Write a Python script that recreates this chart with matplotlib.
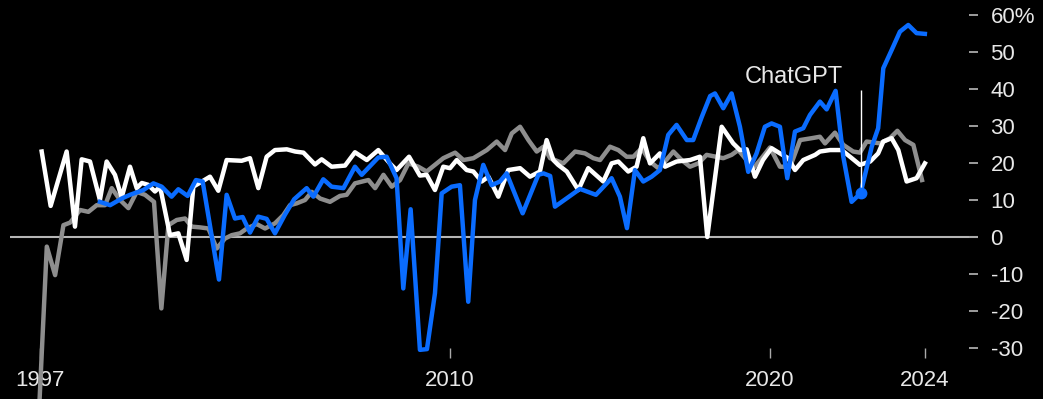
import matplotlib.pyplot as plt

plt.rcParams['font.family'] = ['Liberation Sans', 'DejaVu Sans']

# Year-over-year change, % (decimal years)
white_years = [1997.24, 1997.52, 1998.02, 1998.28, 1998.49, 1998.75, 1999.06, 1999.27, 1999.53, 1999.74,
               2000.0, 2000.21, 2000.37, 2000.57, 2000.78, 2000.94, 2001.25, 2001.51, 2001.77, 2001.98,
               2002.5, 2002.76, 2003.02, 2003.49, 2003.75, 2004.01, 2004.27, 2004.53, 2004.9, 2005.16,
               2005.42, 2005.78, 2005.99, 2006.3, 2006.72, 2007.03, 2007.4, 2007.76, 2008.12, 2008.33,
               2008.72, 2009.06, 2009.27, 2009.53, 2009.79, 2010.0, 2010.21, 2010.52, 2010.73, 2010.99,
               2011.2, 2011.51, 2011.82, 2012.19, 2012.5, 2012.81, 2013.02, 2013.23, 2013.38, 2013.65,
               2014.01, 2014.32, 2014.79, 2015.05, 2015.26, 2015.57, 2015.83, 2016.04, 2016.25, 2016.56,
               2016.72, 2017.08, 2017.5, 2017.81, 2018.04, 2018.49, 2018.85, 2019.06, 2019.27, 2019.53,
               2019.78, 2020.05, 2020.31, 2020.57, 2020.78, 2021.04, 2021.41, 2021.56, 2021.88, 2022.24,
               2022.5, 2022.81, 2023.13, 2023.38, 2023.54, 2023.8, 2024.01, 2024.27, 2024.58, 2024.84]
white_vals = [23.1, 8.4, 23.1, 2.8, 21.0, 20.4, 10.0, 20.4, 16.8, 10.7,
              19.0, 13.2, 14.6, 14.1, 12.3, 13.6, 0.5, 1.0, -6.2, 13.6,
              16.3, 12.5, 20.8, 20.6, 21.3, 13.2, 21.7, 23.5, 23.7, 23.1,
              22.8, 19.6, 21.0, 19.0, 19.3, 22.9, 20.8, 23.5, 19.9, 18.1,
              21.7, 16.6, 16.8, 12.7, 19.0, 18.6, 20.8, 18.1, 17.7, 15.0,
              16.3, 10.9, 18.1, 18.6, 16.3, 17.7, 26.2, 20.8, 19.5, 17.7,
              12.7, 18.6, 15.0, 19.9, 20.4, 17.7, 19.0, 26.7, 19.9, 22.6,
              19.0, 20.4, 20.8, 21.7, 0.0, 29.8, 25.3, 23.5, 23.7, 16.3,
              20.8, 24.0, 22.6, 21.3, 18.1, 20.8, 22.2, 23.1, 23.5, 23.5,
              21.7, 19.5, 20.4, 22.6, 25.8, 26.7, 23.5, 15.0, 15.9, 19.9]

gray_years = [1997.13, 1997.4, 1997.66, 1997.92, 1998.13, 1998.44, 1998.7, 1998.96, 1999.22, 1999.43,
              1999.69, 1999.95, 2000.21, 2000.47, 2000.75, 2000.98, 2001.2, 2001.46, 2001.72, 2001.93,
              2002.19, 2002.45, 2002.71, 2002.97, 2003.18, 2003.44, 2003.65, 2003.96, 2004.22, 2004.53,
              2004.79, 2005.0, 2005.21, 2005.47, 2005.68, 2005.94, 2006.25, 2006.56, 2006.77, 2007.03,
              2007.45, 2007.66, 2007.92, 2008.18, 2008.44, 2008.7, 2009.01, 2009.27, 2009.53, 2009.79,
              2010.16, 2010.42, 2010.73, 2011.15, 2011.46, 2011.72, 2011.93, 2012.19, 2012.45, 2012.71,
              2012.92, 2013.13, 2013.28, 2013.54, 2013.91, 2014.22, 2014.48, 2014.69, 2015.0, 2015.26,
              2015.52, 2015.73, 2015.99, 2016.25, 2016.51, 2016.72, 2016.98, 2017.24, 2017.5, 2017.76,
              2018.02, 2018.54, 2018.8, 2019.01, 2019.48, 2019.69, 2020.0, 2020.31, 2020.63, 2020.94,
              2021.3, 2021.56, 2021.72, 2022.03, 2022.29, 2022.6, 2022.81, 2023.02, 2023.44, 2023.75,
              2023.98, 2024.22, 2024.48, 2024.75]
gray_vals = [-52.0, -2.6, -10.3, 3.2, 3.9, 7.3, 6.8, 8.6, 8.6, 13.2,
             10.0, 7.8, 12.2, 11.4, 9.5, -19.3, 3.2, 4.6, 5.0, 2.8,
             2.6, 2.3, -3.1, -0.4, 0.5, 1.0, 2.3, 3.5, 2.3, 3.7,
             5.9, 8.6, 9.1, 10.0, 12.2, 10.4, 9.5, 11.1, 11.4, 14.5,
             15.4, 13.2, 16.8, 13.6, 15.4, 19.9, 19.0, 17.7, 19.5, 21.3,
             22.8, 20.8, 21.3, 23.5, 25.8, 23.5, 28.0, 29.8, 26.2, 23.1,
             24.4, 21.3, 20.8, 19.9, 23.1, 22.6, 21.3, 20.8, 24.4, 23.5,
             21.7, 21.7, 24.0, 20.4, 18.6, 20.4, 23.1, 20.8, 19.0, 19.9,
             22.2, 21.3, 22.2, 23.5, 18.6, 20.8, 24.2, 19.0, 19.0, 26.2,
             26.7, 27.1, 25.3, 28.2, 24.9, 23.1, 22.8, 25.8, 25.3, 26.7,
             28.7, 26.2, 24.9, 15.4]

blue_years = [1999.06, 1999.38, 1999.74, 2000.0, 2000.42, 2000.73, 2000.99, 2001.3, 2001.51, 2001.8,
              2002.06, 2002.27, 2002.78, 2003.02, 2003.28, 2003.52, 2003.75, 2004.01, 2004.27, 2004.53,
              2004.84, 2005.13, 2005.52, 2005.73, 2006.04, 2006.3, 2006.67, 2007.03, 2007.24, 2007.76,
              2008.02, 2008.33, 2008.54, 2008.77, 2009.06, 2009.28, 2009.53, 2009.74, 2010.05, 2010.31,
              2010.57, 2010.78, 2011.04, 2011.3, 2011.56, 2011.77, 2012.27, 2012.76, 2012.92, 2013.13,
              2013.28, 2014.06, 2014.56, 2015.05, 2015.31, 2015.53, 2015.78, 2016.04, 2016.3, 2016.56,
              2016.82, 2017.08, 2017.4, 2017.6, 2017.87, 2018.13, 2018.28, 2018.54, 2018.8, 2019.06,
              2019.32, 2019.58, 2019.84, 2020.05, 2020.31, 2020.54, 2020.78, 2021.04, 2021.25, 2021.56,
              2021.77, 2022.05, 2022.29, 2022.55, 2022.83, 2023.18, 2023.38, 2023.54, 2023.8, 2024.06,
              2024.32, 2024.58, 2024.84]
blue_vals = [9.5, 8.6, 10.4, 11.4, 12.7, 14.5, 13.6, 10.9, 12.9, 11.1,
             15.4, 15.0, -11.5, 11.4, 5.0, 5.4, 1.2, 5.5, 4.9, 1.0,
             6.0, 10.2, 13.2, 10.9, 15.6, 13.6, 13.2, 19.0, 16.8, 21.5,
             21.7, 15.9, -13.9, 7.5, -30.5, -30.3, -15.2, 11.8, 13.6, 14.0,
             -17.5, 10.0, 19.5, 14.0, 15.0, 17.2, 6.4, 16.8, 17.2, 16.5,
             8.2, 13.0, 11.4, 15.9, 10.9, 2.4, 18.1, 15.0, 16.3, 18.1,
             27.6, 30.3, 26.2, 26.2, 32.5, 38.1, 38.8, 34.8, 38.8, 29.8,
             17.6, 22.6, 29.8, 30.7, 29.8, 15.9, 28.5, 29.4, 33.0, 36.6,
             34.5, 39.5, 21.7, 9.5, 11.8, 24.4, 29.4, 45.6, 50.5, 55.5,
             57.3, 55.1, 54.9]

chatgpt_year = 2022.83
chatgpt_val = 11.8
chatgpt_top = 39.7

x_ticks = [1997.2, 2010, 2020, 2024.84]
x_labels = ['1997', '2010', '2020', '2024']
y_ticks = [-30, -20, -10, 0, 10, 20, 30, 40, 50, 60]
y_labels = ['-30', '-20', '-10', '0', '10', '20', '30', '40', '50', '60%']

blue = '#0a6cff'
gray = '#8e8e8e'

fig = plt.figure(figsize=(10.43, 3.99), dpi=100, facecolor='black')
ax = fig.add_axes([10 / 1043, 51 / 399, 968 / 1043, 333 / 399])
ax.set_facecolor('black')

ax.axhline(0, color='#b5b5b5', lw=1.5, zorder=1)
ax.plot(gray_years, gray_vals, color=gray, lw=3.2, clip_on=False, zorder=2)
ax.plot(white_years, white_vals, color='white', lw=3.2, clip_on=False, zorder=3)
ax.plot(blue_years, blue_vals, color=blue, lw=3.2, clip_on=False, zorder=4)

# ChatGPT marker
ax.vlines(chatgpt_year, chatgpt_val, chatgpt_top, color='white', lw=1, zorder=5)
ax.plot(chatgpt_year, chatgpt_val, 'o', ms=7.5, color=blue, zorder=6, clip_on=False)
ax.annotate('ChatGPT', xy=(chatgpt_year, 41.5), xytext=(-13, 0), textcoords='offset points',
            ha='right', va='baseline', color='#e8e8e8', fontsize=17)

ax.set_xlim(1996.25, 2026.5)
ax.set_ylim(-30, 60)

ax.set_xticks(x_ticks)
ax.set_xticklabels(x_labels)
ax.yaxis.tick_right()
ax.set_yticks(y_ticks)
ax.set_yticklabels(y_labels)

ax.tick_params(axis='x', direction='out', length=7, width=1, color='#aaaaaa',
               labelcolor='#e8e8e8', labelsize=16, pad=9)
ax.tick_params(axis='y', direction='in', length=6.5, width=1.3, color='#aaaaaa',
               labelcolor='#e8e8e8', labelsize=16, pad=9)

for s in ax.spines.values():
    s.set_visible(False)

fig.savefig('out.png', dpi=100, facecolor='black')
